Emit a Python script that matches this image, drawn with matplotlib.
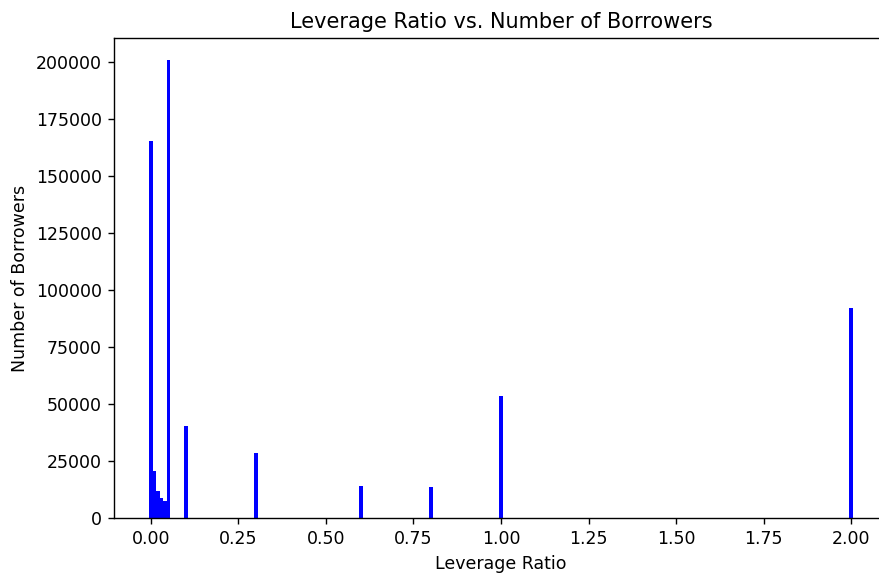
import matplotlib
matplotlib.use("Agg")
import matplotlib.pyplot as plt

# Leverage ratio levels and how many borrowers sit at each level
leverage_ratio = [0.00, 0.01, 0.02, 0.03, 0.04, 0.05, 0.10, 0.30, 0.60, 0.80, 1.00, 2.00]
num_borrowers = [165300, 20600, 11800, 8900, 7400, 200900, 40300, 28500, 14000, 13600, 53500, 92100]

W, H = 879, 573
DPI = 125
fig = plt.figure(figsize=(W / DPI, H / DPI), dpi=DPI)
ax = fig.add_axes([114 / W, (H - 518) / H, 774 / W, 480 / H])

ax.bar(leverage_ratio, num_borrowers, width=0.01, color="blue")
ax.set_xlim(-0.1055, 2.1055)
ax.set_ylim(0, 210500)

ax.set_title("Leverage Ratio vs. Number of Borrowers", fontsize=12)
ax.set_xlabel("Leverage Ratio", fontsize=10)
ax.set_ylabel("Number of Borrowers", fontsize=10)
ax.tick_params(labelsize=10)
ax.spines["right"].set_visible(False)

fig.savefig("out.png", dpi=DPI)
